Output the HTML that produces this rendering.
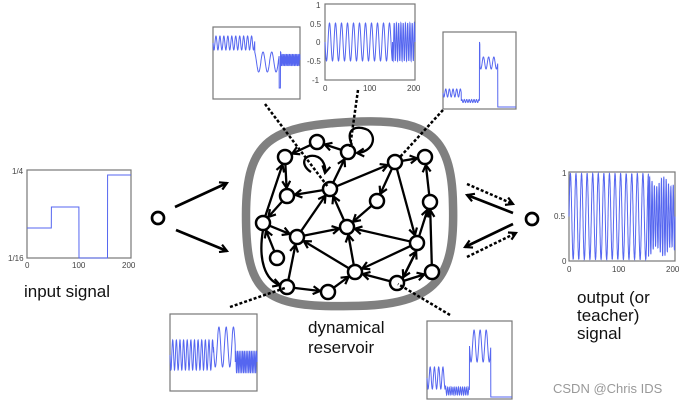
<!DOCTYPE html>
<html><head><meta charset="utf-8"><style>
html,body{margin:0;padding:0;background:#fff;}
svg{display:block;}
text{font-family:"Liberation Sans",sans-serif;}
.t{font-size:8px;fill:#444;}
.lab{font-size:17px;fill:#111;}
</style></head><body>
<svg id="s" width="692" height="403" viewBox="0 0 692 403" xmlns="http://www.w3.org/2000/svg">
<defs>
<marker id="ah" markerWidth="10" markerHeight="10" refX="8" refY="5" orient="auto" markerUnits="userSpaceOnUse">
<path d="M1,1 L8,5 L1,9" fill="none" stroke="#000" stroke-width="2.2"/>
</marker>
</defs>
<rect width="692" height="403" fill="#fff"/>
<path d="M350 122 C425 118 452 132 453 205 C455 275 440 306 350 306 C262 308 246 292 246 215 C246 140 272 126 350 122 Z" fill="none" stroke="#808080" stroke-width="8.5"/>
<g id="edges" stroke="#000" stroke-width="2.3" fill="none"></g>
<g id="nodes" stroke="#000" stroke-width="2.5" fill="#fff"></g>
<g stroke="#000" stroke-width="2.5" stroke-dasharray="3,2" fill="none">
<line x1="265" y1="104" x2="328" y2="187"/>
<line x1="358" y1="90" x2="350" y2="147"/>
<line x1="443" y1="110" x2="400" y2="157"/>
<line x1="230" y1="307" x2="285" y2="288"/>
<line x1="450" y1="315" x2="398" y2="284"/>
<line x1="467" y1="184" x2="513" y2="204" marker-end="url(#ah)"/>
<line x1="467" y1="257" x2="516" y2="233" marker-end="url(#ah)"/>
</g>
<g stroke="#000" stroke-width="2.7" fill="none">
<line x1="175" y1="207" x2="227" y2="183" marker-end="url(#ah)"/>
<line x1="176" y1="230" x2="227" y2="251" marker-end="url(#ah)"/>
<line x1="513" y1="213" x2="467" y2="195" marker-end="url(#ah)"/>
<line x1="513" y1="224" x2="465" y2="247" marker-end="url(#ah)"/>
</g>
<circle cx="158" cy="218" r="6" fill="#fff" stroke="#000" stroke-width="2.7"/>
<circle cx="532" cy="219" r="6" fill="#fff" stroke="#000" stroke-width="2.7"/>
<g id="plots"></g>
<text class="lab" x="24" y="297">input signal</text>
<text class="lab" x="308" y="333">dynamical</text>
<text class="lab" x="308" y="353">reservoir</text>
<text class="lab" x="577" y="303">output (or</text>
<text class="lab" x="577" y="321">teacher)</text>
<text class="lab" x="577" y="339">signal</text>
<text x="553" y="393" style="font-size:13px;fill:#999">CSDN @Chris IDS</text>
<text class="t" x="12" y="174">1/4</text>
<text class="t" x="8" y="261">1/16</text>
<text class="t" x="25" y="268">0</text><text class="t" x="72" y="268">100</text><text class="t" x="122" y="268">200</text>
<text class="t" x="316" y="8">1</text><text class="t" x="310" y="27">0.5</text><text class="t" x="316" y="45">0</text>
<text class="t" x="307" y="64">-0.5</text><text class="t" x="312" y="83">-1</text>
<text class="t" x="323" y="91">0</text><text class="t" x="363" y="91">100</text><text class="t" x="407" y="91">200</text>
<text class="t" x="562" y="176">1</text><text class="t" x="554" y="219">0.5</text><text class="t" x="562" y="264">0</text>
<text class="t" x="567" y="272">0</text><text class="t" x="612" y="272">100</text><text class="t" x="666" y="272">200</text>
</svg>
<script>
var NS="http://www.w3.org/2000/svg";
function el(p,t,a){var e=document.createElementNS(NS,t);for(var k in a)e.setAttribute(k,a[k]);p.appendChild(e);return e;}
var N={A:[317,142],B:[348,152],C:[285,157],D:[395,162],E:[425,157],F:[330,189],G:[287,196],H:[377,201],I:[430,202],J:[263,223],K:[297,237],L:[347,227],M:[277,258],N:[417,243],O:[432,272],P:[355,272],Q:[287,287],R:[328,292],S:[397,283]};
var E=["BA","AC","FB","FD","DE","DH","DN","IE","NI","OI","FG","CG","JC","GJ","JK","KF","KL","HL","LF","NL","PL","MJ","QK","QR","RP","PK","NP","SP","SN","NS","SO"];
var ge=document.getElementById("edges"),gn=document.getElementById("nodes"),r=7;
E.forEach(function(e){var a=N[e[0]],b=N[e[1]],dx=b[0]-a[0],dy=b[1]-a[1],l=Math.hypot(dx,dy),ux=dx/l,uy=dy/l,o=(e=="SN"||e=="NS")?(e=="SN"?3:-3):0;
el(ge,"line",{x1:a[0]+ux*r-uy*o,y1:a[1]+uy*r+ux*o,x2:b[0]-ux*(r+1)-uy*o,y2:b[1]-uy*(r+1)+ux*o,"marker-end":"url(#ah)"});});
el(ge,"path",{d:"M263 230 C258 260 265 280 280 285","marker-end":"url(#ah)"});
el(ge,"path",{d:"M352 145 C345 130 355 124 368 130 C378 138 372 152 357 153","marker-end":"url(#ah)"});
el(ge,"path",{d:"M311 172 C300 165 303 154 315 156 C324 158 326 168 325 173","marker-end":"url(#ah)"});
for(var k in N)el(gn,"circle",{cx:N[k][0],cy:N[k][1],r:r});
var gp=document.getElementById("plots");
function plot(x0,y0,x1,y1,f,n){
el(gp,"rect",{x:x0,y:y0,width:x1-x0,height:y1-y0,fill:"#fff",stroke:"#777","stroke-width":1.2});
var pts=[];for(var i=0;i<=n;i++){var t=i/n;pts.push((x0+t*(x1-x0)).toFixed(1)+","+f(t).toFixed(1));}
el(gp,"polyline",{points:pts.join(" "),fill:"none",stroke:"#5566f0","stroke-width":1});
}
var S=Math.sin,P=Math.PI*2;
plot(27,170,131,258,function(t){return t<.235?228:t<.5?207:t<.775?258:175;},800);
plot(213,27,300,99,function(t){if(t<.48)return 43+7*S(P*t*22);if(t<.78)return(t>.76&&t<.775)?88:62+10*S(P*t*10);return 60+6*S(P*t*60);},900);
plot(325,4,415,80,function(t){return 42+19*S(P*t*(t<.75?15:40));},900);
plot(443,32,516,109,function(t){if(t<.25)return 93+4*S(P*t*20);if(t<.5)return 101+1.5*S(P*t*30);if(t<.75)return (t<.505?42:63)+6*S(P*t*14);return 107;},900);
plot(170,314,257,391,function(t){if(t<.5)return 355+15*S(P*t*24);if(t<.75)return 347+20*S(P*t*12);return 362+11*S(P*t*50);},900);
plot(427,321,512,399,function(t){if(t<.22)return 378+11*S(P*t*20);if(t<.5)return 391+4*S(P*t*40);if(t<.75)return 346+16*S(P*t*14);return 397;},900);
plot(569,172,675,261,function(t){if(t<.75)return 216.5-43*S(P*t*19);return 216.5-(35+5*S(P*t*7))*S(P*t*45);},1500);
</script>
</body></html>
